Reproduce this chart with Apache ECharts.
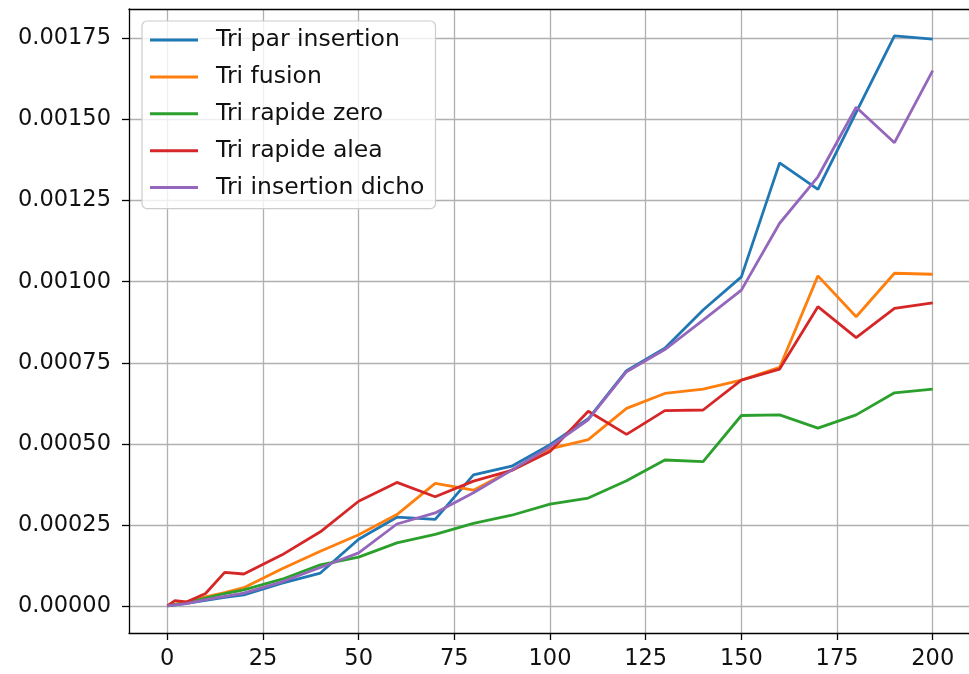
<!DOCTYPE html>
<html>
<head>
<meta charset="utf-8">
<script src="https://cdn.jsdelivr.net/npm/echarts@6/dist/echarts.min.js"></script>
<style>
  html, body { margin: 0; padding: 0; background: #fff; overflow: hidden; width: 969px; height: 674px; }
  #chart { width: 980px; height: 674px; }
</style>
</head>
<body>
<div id="chart"></div>
<script>
// Array sizes (n) at which each sorting algorithm was timed
const sizes = [0, 2, 5, 10, 15, 20, 30, 40, 50, 60, 70, 80, 90, 100, 110, 120, 130, 140, 150, 160, 170, 180, 190, 200];

// Measured run times (seconds)
const triParInsertion = [0.000002, 0.000005, 0.000010, 0.000019, 0.000028, 0.000036, 0.000072, 0.000103, 0.000207, 0.000275, 0.000268, 0.000405, 0.000432, 0.000498, 0.000578, 0.000726, 0.000795, 0.000913, 0.001015, 0.001366, 0.001284, 0.001521, 0.001757, 0.001747];
const triFusion = [0.000002, 0.000007, 0.000014, 0.000030, 0.000043, 0.000058, 0.000116, 0.000170, 0.000221, 0.000283, 0.000379, 0.000358, 0.000420, 0.000485, 0.000514, 0.000610, 0.000656, 0.000669, 0.000697, 0.000736, 0.001018, 0.000892, 0.001026, 0.001023];
const triRapideZero = [0.000002, 0.000006, 0.000012, 0.000026, 0.000040, 0.000051, 0.000084, 0.000128, 0.000152, 0.000196, 0.000222, 0.000256, 0.000281, 0.000315, 0.000334, 0.000387, 0.000451, 0.000446, 0.000588, 0.000590, 0.000549, 0.000590, 0.000658, 0.000669];
const triRapideAlea = [0.000002, 0.000018, 0.000014, 0.000040, 0.000105, 0.000100, 0.000159, 0.000230, 0.000324, 0.000382, 0.000338, 0.000386, 0.000419, 0.000477, 0.000601, 0.000530, 0.000603, 0.000605, 0.000697, 0.000731, 0.000923, 0.000828, 0.000918, 0.000935];
const triInsertionDicho = [0.000002, 0.000005, 0.000009, 0.000021, 0.000031, 0.000041, 0.000076, 0.000120, 0.000165, 0.000254, 0.000288, 0.000350, 0.000420, 0.000492, 0.000575, 0.000723, 0.000791, 0.000882, 0.000974, 0.001180, 0.001323, 0.001537, 0.001428, 0.001650];

const seriesNames = ['Tri par insertion', 'Tri fusion', 'Tri rapide zero', 'Tri rapide alea', 'Tri insertion dicho'];
const seriesValues = [triParInsertion, triFusion, triRapideZero, triRapideAlea, triInsertionDicho];
const seriesColors = ['#1f77b4', '#ff7f0e', '#2ca02c', '#d62728', '#9467bd'];

// Tick positions
const xTicks = [0, 25, 50, 75, 100, 125, 150, 175, 200];
const yTicks = [0, 0.00025, 0.0005, 0.00075, 0.001, 0.00125, 0.0015, 0.00175];

const FONT = 'DejaVu Sans';
const X_MIN = -10, X_MAX = 210;
const Y_MIN = -0.0000816, Y_MAX = 0.0018396;
const chart = echarts.init(document.getElementById('chart'), null, { renderer: 'canvas' });

const spine = { show: true, onZero: false, lineStyle: { color: '#000', width: 1.3 } };

const option = {
  backgroundColor: '#ffffff',
  animation: false,
  color: seriesColors,
  // the plot frame runs slightly past the visible right edge of the page
  grid: { left: 129, top: 9, width: 842, height: 624, show: false },
  legend: {
    orient: 'vertical',
    left: 142, top: 21,
    padding: [7, 11, 9, 8],
    itemGap: 12.9,
    itemWidth: 48, itemHeight: 3,
    icon: 'rect',
    backgroundColor: 'rgba(255,255,255,0.8)',
    borderColor: '#cccccc', borderWidth: 1.2, borderRadius: 5,
    textStyle: { fontFamily: FONT, fontSize: 23.5, color: '#111', lineHeight: 22, padding: [0, 0, 0, 13] },
    data: seriesNames
  },
  xAxis: [
    {
      type: 'value', min: X_MIN, max: X_MAX, position: 'bottom',
      axisLine: spine,
      axisTick: { show: true, length: 7, lineStyle: { color: '#000', width: 1.3 }, customValues: xTicks },
      axisLabel: {
        fontFamily: FONT, fontSize: 22.5, color: '#111', margin: 15, customValues: xTicks,
        formatter: v => String(v)
      },
      splitLine: { show: true, lineStyle: { color: '#b0b0b0', width: 1.3 } }
    },
    {
      // top spine only
      type: 'value', min: X_MIN, max: X_MAX, position: 'top',
      axisLine: spine,
      axisTick: { show: false }, axisLabel: { show: false }, splitLine: { show: false }
    }
  ],
  yAxis: {
    type: 'value', min: Y_MIN, max: Y_MAX, position: 'left',
    axisLine: spine,
    axisTick: { show: true, length: 7, lineStyle: { color: '#000', width: 1.3 }, customValues: yTicks },
    axisLabel: {
      fontFamily: FONT, fontSize: 22.5, color: '#111', margin: 18, customValues: yTicks,
      formatter: v => v.toFixed(5)
    },
    splitLine: { show: true, lineStyle: { color: '#b0b0b0', width: 1.3 } }
  },
  series: seriesNames.map((name, i) => ({
    name: name,
    type: 'line',
    xAxisIndex: 0,
    data: sizes.map((n, j) => [n, seriesValues[i][j]]),
    showSymbol: false,
    symbol: 'none',
    lineStyle: { width: 2.8, color: seriesColors[i] },
    itemStyle: { color: seriesColors[i] },
    clip: true
  }))
};

chart.setOption(option);
</script>
</body>
</html>
